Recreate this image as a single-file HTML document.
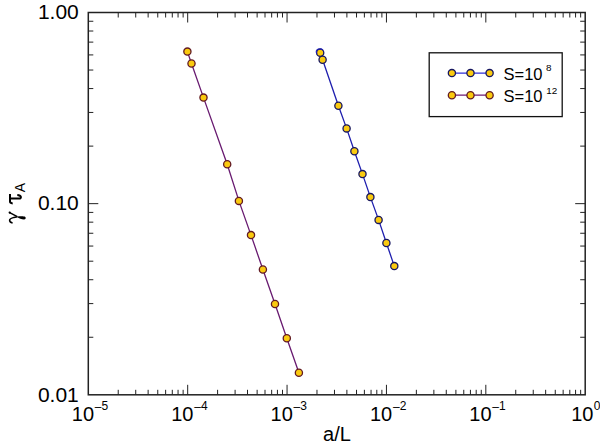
<!DOCTYPE html>
<html><head><meta charset="utf-8"><style>
html,body{margin:0;padding:0;background:#fff;width:600px;height:446px;overflow:hidden;font-family:"Liberation Sans",sans-serif;}
svg{display:block}
</style></head><body><svg width="600" height="446" viewBox="0 0 600 446"><rect x="88.3" y="12.5" width="496.90000000000003" height="382.3" fill="none" stroke="#222" stroke-width="1.5"/><path d="M118.22 394.8v-5M118.22 12.5v5M135.72 394.8v-5M135.72 12.5v5M148.13 394.8v-5M148.13 12.5v5M157.76 394.8v-5M157.76 12.5v5M165.63 394.8v-5M165.63 12.5v5M172.29 394.8v-5M172.29 12.5v5M178.05 394.8v-5M178.05 12.5v5M183.13 394.8v-5M183.13 12.5v5M187.68 394.8v-10M187.68 12.5v10M217.60 394.8v-5M217.60 12.5v5M235.10 394.8v-5M235.10 12.5v5M247.51 394.8v-5M247.51 12.5v5M257.14 394.8v-5M257.14 12.5v5M265.01 394.8v-5M265.01 12.5v5M271.67 394.8v-5M271.67 12.5v5M277.43 394.8v-5M277.43 12.5v5M282.51 394.8v-5M282.51 12.5v5M287.06 394.8v-10M287.06 12.5v10M316.98 394.8v-5M316.98 12.5v5M334.48 394.8v-5M334.48 12.5v5M346.89 394.8v-5M346.89 12.5v5M356.52 394.8v-5M356.52 12.5v5M364.39 394.8v-5M364.39 12.5v5M371.05 394.8v-5M371.05 12.5v5M376.81 394.8v-5M376.81 12.5v5M381.89 394.8v-5M381.89 12.5v5M386.44 394.8v-10M386.44 12.5v10M416.36 394.8v-5M416.36 12.5v5M433.86 394.8v-5M433.86 12.5v5M446.27 394.8v-5M446.27 12.5v5M455.90 394.8v-5M455.90 12.5v5M463.77 394.8v-5M463.77 12.5v5M470.43 394.8v-5M470.43 12.5v5M476.19 394.8v-5M476.19 12.5v5M481.27 394.8v-5M481.27 12.5v5M485.82 394.8v-10M485.82 12.5v10M515.74 394.8v-5M515.74 12.5v5M533.24 394.8v-5M533.24 12.5v5M545.65 394.8v-5M545.65 12.5v5M555.28 394.8v-5M555.28 12.5v5M563.15 394.8v-5M563.15 12.5v5M569.81 394.8v-5M569.81 12.5v5M575.57 394.8v-5M575.57 12.5v5M580.65 394.8v-5M580.65 12.5v5M88.3 337.26h5M585.2 337.26h-5M88.3 303.60h5M585.2 303.60h-5M88.3 279.72h5M585.2 279.72h-5M88.3 261.19h5M585.2 261.19h-5M88.3 246.06h5M585.2 246.06h-5M88.3 233.26h5M585.2 233.26h-5M88.3 222.17h5M585.2 222.17h-5M88.3 212.40h5M585.2 212.40h-5M88.3 203.65h10M585.2 203.65h-10M88.3 146.11h5M585.2 146.11h-5M88.3 112.45h5M585.2 112.45h-5M88.3 88.57h5M585.2 88.57h-5M88.3 70.04h5M585.2 70.04h-5M88.3 54.91h5M585.2 54.91h-5M88.3 42.11h5M585.2 42.11h-5M88.3 31.02h5M585.2 31.02h-5M88.3 21.25h5M585.2 21.25h-5" stroke="#222" stroke-width="1" fill="none"/><polyline points="187.4,51.6 191.5,63.5 203.5,97.6 227.2,164.2 238.9,200.9 251.0,235.1 262.9,269.5 275.0,304.0 286.8,338.3 298.9,372.7" fill="none" stroke="#681A70" stroke-width="1.3"/><circle cx="187.4" cy="51.6" r="3.6" fill="#FACA0F" stroke="#621A24" stroke-width="1.3"/><circle cx="191.5" cy="63.5" r="3.6" fill="#FACA0F" stroke="#621A24" stroke-width="1.3"/><circle cx="203.5" cy="97.6" r="3.6" fill="#FACA0F" stroke="#621A24" stroke-width="1.3"/><circle cx="227.2" cy="164.2" r="3.6" fill="#FACA0F" stroke="#621A24" stroke-width="1.3"/><circle cx="238.9" cy="200.9" r="3.6" fill="#FACA0F" stroke="#621A24" stroke-width="1.3"/><circle cx="251.0" cy="235.1" r="3.6" fill="#FACA0F" stroke="#621A24" stroke-width="1.3"/><circle cx="262.9" cy="269.5" r="3.6" fill="#FACA0F" stroke="#621A24" stroke-width="1.3"/><circle cx="275.0" cy="304.0" r="3.6" fill="#FACA0F" stroke="#621A24" stroke-width="1.3"/><circle cx="286.8" cy="338.3" r="3.6" fill="#FACA0F" stroke="#621A24" stroke-width="1.3"/><circle cx="298.9" cy="372.7" r="3.6" fill="#FACA0F" stroke="#621A24" stroke-width="1.3"/><polyline points="320.2,52.7 322.6,59.8 338.4,105.7 346.6,128.4 354.4,151.3 362.5,174.1 370.4,197.1 378.6,219.9 386.4,243.0 394.3,266.1" fill="none" stroke="#1E1EAE" stroke-width="1.3"/><circle cx="320.2" cy="52.7" r="3.6" fill="#FACA0F" stroke="#161660" stroke-width="1.3"/><circle cx="322.6" cy="59.8" r="3.6" fill="#FACA0F" stroke="#161660" stroke-width="1.3"/><circle cx="338.4" cy="105.7" r="3.6" fill="#FACA0F" stroke="#161660" stroke-width="1.3"/><circle cx="346.6" cy="128.4" r="3.6" fill="#FACA0F" stroke="#161660" stroke-width="1.3"/><circle cx="354.4" cy="151.3" r="3.6" fill="#FACA0F" stroke="#161660" stroke-width="1.3"/><circle cx="362.5" cy="174.1" r="3.6" fill="#FACA0F" stroke="#161660" stroke-width="1.3"/><circle cx="370.4" cy="197.1" r="3.6" fill="#FACA0F" stroke="#161660" stroke-width="1.3"/><circle cx="378.6" cy="219.9" r="3.6" fill="#FACA0F" stroke="#161660" stroke-width="1.3"/><circle cx="386.4" cy="243.0" r="3.6" fill="#FACA0F" stroke="#161660" stroke-width="1.3"/><circle cx="394.3" cy="266.1" r="3.6" fill="#FACA0F" stroke="#161660" stroke-width="1.3"/><path d="M316.8,53.9 A3.5,3.5 0 0 1 323.1,50.6" fill="none" stroke="#1E1EB8" stroke-width="1.1"/><rect x="429.2" y="52.8" width="133" height="63.8" fill="#fff" stroke="#111" stroke-width="1.3"/><line x1="451.9" y1="73.1" x2="489.6" y2="73.1" stroke="#2C2CD8" stroke-width="1.3"/><circle cx="451.9" cy="73.1" r="3.6" fill="#FACA0F" stroke="#161660" stroke-width="1.3"/><circle cx="470.5" cy="73.1" r="3.6" fill="#FACA0F" stroke="#161660" stroke-width="1.3"/><circle cx="489.6" cy="73.1" r="3.6" fill="#FACA0F" stroke="#161660" stroke-width="1.3"/><line x1="451.9" y1="95.2" x2="489.6" y2="95.2" stroke="#6E1874" stroke-width="1.3"/><circle cx="451.9" cy="95.2" r="3.6" fill="#FACA0F" stroke="#621A24" stroke-width="1.3"/><circle cx="470.5" cy="95.2" r="3.6" fill="#FACA0F" stroke="#621A24" stroke-width="1.3"/><circle cx="489.6" cy="95.2" r="3.6" fill="#FACA0F" stroke="#621A24" stroke-width="1.3"/><text x="503.5" y="80.3" font-family="Liberation Sans, sans-serif" font-size="16.5" fill="#000">S=10</text><text x="546" y="71.4" font-family="Liberation Sans, sans-serif" font-size="9.9" fill="#000">8</text><text x="503.5" y="102.4" font-family="Liberation Sans, sans-serif" font-size="16.5" fill="#000">S=10</text><text x="546.2" y="93.5" font-family="Liberation Sans, sans-serif" font-size="9.9" fill="#000">12</text><text x="78.8" y="19.30" font-family="Liberation Sans, sans-serif" font-size="21" text-anchor="end" fill="#000">1.00</text><text x="78.8" y="210.45" font-family="Liberation Sans, sans-serif" font-size="21" text-anchor="end" fill="#000">0.10</text><text x="78.8" y="401.60" font-family="Liberation Sans, sans-serif" font-size="21" text-anchor="end" fill="#000">0.01</text><text x="71.80" y="420.6" font-family="Liberation Sans, sans-serif" font-size="20" fill="#000">10<tspan font-size="12" dx="0.8" dy="-9.3">–</tspan><tspan font-size="12" dy="-1.3">5</tspan></text><text x="171.18" y="420.6" font-family="Liberation Sans, sans-serif" font-size="20" fill="#000">10<tspan font-size="12" dx="0.8" dy="-9.3">–</tspan><tspan font-size="12" dy="-1.3">4</tspan></text><text x="270.56" y="420.6" font-family="Liberation Sans, sans-serif" font-size="20" fill="#000">10<tspan font-size="12" dx="0.8" dy="-9.3">–</tspan><tspan font-size="12" dy="-1.3">3</tspan></text><text x="369.94" y="420.6" font-family="Liberation Sans, sans-serif" font-size="20" fill="#000">10<tspan font-size="12" dx="0.8" dy="-9.3">–</tspan><tspan font-size="12" dy="-1.3">2</tspan></text><text x="469.32" y="420.6" font-family="Liberation Sans, sans-serif" font-size="20" fill="#000">10<tspan font-size="12" dx="0.8" dy="-9.3">–</tspan><tspan font-size="12" dy="-1.3">1</tspan></text><text x="571.20" y="420.6" font-family="Liberation Sans, sans-serif" font-size="20" fill="#000">10<tspan font-size="12" dx="0.3" dy="-10.6">0</tspan></text><text x="337" y="441.2" font-family="Liberation Sans, sans-serif" font-size="20" text-anchor="middle" fill="#000">a/L</text><path d="M10,194 L10,201.6 Q10,203.3 12.7,203.5" fill="none" stroke="#000" stroke-width="2"/><path d="M10.5,198.5 L19.2,198.5 C21.8,198.5 21.6,195.2 17.3,194.9" fill="none" stroke="#000" stroke-width="2"/><path d="M9.2,212.3 L17.3,216.7" fill="none" stroke="#000" stroke-width="1.4"/><circle cx="9.7" cy="212.6" r="1.15" fill="#000"/><path d="M12.6,222.9 C10.3,222.5 9.5,221.3 9.6,220 C9.8,218.8 11,218.2 13.9,217.4 L17.3,216.8" fill="none" stroke="#000" stroke-width="1.5"/><path d="M17.3,216.5 C20,216.2 24,215.9 25.3,216.9 C26.2,217.9 25.5,219.4 24,219.4 C21.5,219.4 19,218.2 17.3,217.2 Z" fill="#000"/><text transform="translate(24.9,192.2) rotate(-90)" font-family="Liberation Sans, sans-serif" font-size="14" fill="#000">A</text></svg></body></html>
